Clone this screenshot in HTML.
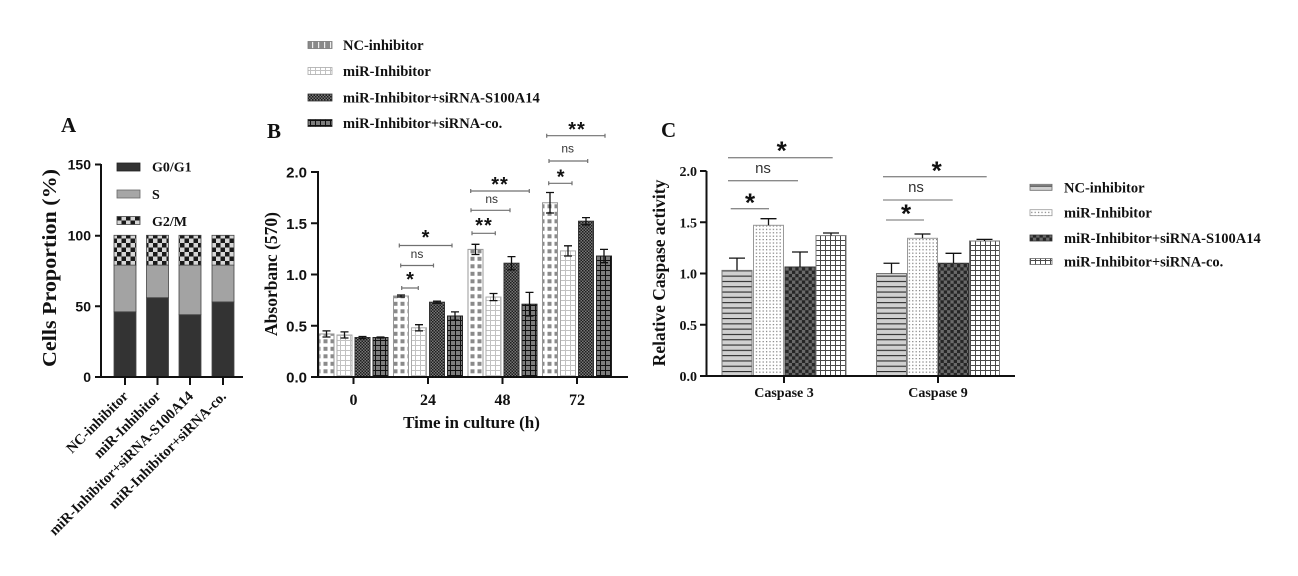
<!DOCTYPE html>
<html><head><meta charset="utf-8">
<style>
html,body{margin:0;padding:0;background:#fff}
svg{display:block}
.sr{font-family:"Liberation Serif","Times New Roman",serif;font-weight:bold;fill:#111}
.ss{font-family:"Liberation Sans",Arial,sans-serif;font-weight:bold;fill:#111}
.ns{font-family:"Liberation Sans",Arial,sans-serif;font-weight:normal;fill:#333}
.ax{stroke:#111;stroke-width:2;fill:none}
.eb{stroke:#111;stroke-width:1.3;fill:none}
.br{stroke:#707070;stroke-width:1.2;fill:none}
.cl{stroke:#8a8a8a;stroke-width:1.3;fill:none}
</style></head>
<body>
<svg width="1298" height="576" viewBox="0 0 1298 576" xmlns="http://www.w3.org/2000/svg">
<defs>
<pattern id="aChk" width="9" height="9" patternUnits="userSpaceOnUse"><rect width="9" height="9" fill="#d6d6d6"/><rect width="4.5" height="4.5" fill="#1a1a1a"/><rect x="4.5" y="4.5" width="4.5" height="4.5" fill="#1a1a1a"/></pattern>
<pattern id="b1" width="7" height="7.5" patternUnits="userSpaceOnUse"><rect width="7" height="7.5" fill="#fff"/><rect x="1.5" y="1.8" width="4" height="4" fill="#8a8a8a"/></pattern>
<pattern id="b1s" width="6" height="7" patternUnits="userSpaceOnUse"><rect width="6" height="7" fill="#8a8a8a"/><rect x="0" y="0" width="1.2" height="7" fill="#eee"/></pattern>
<pattern id="b2" width="5" height="5" patternUnits="userSpaceOnUse"><rect width="5" height="5" fill="#fff"/><path d="M0 0.5H5M0.5 0V5" stroke="#c2c2c2" stroke-width="1"/></pattern>
<pattern id="b3" width="3" height="3" patternUnits="userSpaceOnUse"><rect width="3" height="3" fill="#777"/><rect width="1.5" height="1.5" fill="#1c1c1c"/><rect x="1.5" y="1.5" width="1.5" height="1.5" fill="#1c1c1c"/></pattern>
<pattern id="b4" width="5" height="5" patternUnits="userSpaceOnUse"><rect width="5" height="5" fill="#7e7e7e"/><path d="M0 0.5H5M0.5 0V5" stroke="#111" stroke-width="1"/></pattern>
<pattern id="c1" width="10" height="5.3" patternUnits="userSpaceOnUse"><rect width="10" height="5.3" fill="#d0d0d0"/><rect width="10" height="1.1" fill="#2a2a2a"/></pattern>
<pattern id="c2" width="3.4" height="3.4" patternUnits="userSpaceOnUse"><rect width="3.4" height="3.4" fill="#fff"/><rect x="1" y="1" width="1.2" height="1.2" fill="#777"/></pattern>
<pattern id="c3" width="6.6" height="6.6" patternUnits="userSpaceOnUse"><rect width="6.6" height="6.6" fill="#6a6a6a"/><rect width="3.3" height="3.3" fill="#262626"/><rect x="3.3" y="3.3" width="3.3" height="3.3" fill="#262626"/></pattern>
<pattern id="c4" width="5" height="5" patternUnits="userSpaceOnUse"><rect width="5" height="5" fill="#fff"/><path d="M0 0.5H5M0.5 0V5" stroke="#4a4a4a" stroke-width="1"/></pattern>
</defs>

<!-- ================= PANEL A ================= -->
<text class="sr" x="61" y="132" font-size="21">A</text>
<rect x="117" y="163" width="23" height="8" fill="#333" stroke="#222" stroke-width="0.8"/>
<text class="sr" x="152" y="171.5" font-size="14">G0/G1</text>
<rect x="117" y="190" width="23" height="8" fill="#a6a6a6" stroke="#666" stroke-width="0.8"/>
<text class="sr" x="152" y="199" font-size="14">S</text>
<rect x="117" y="216.5" width="23" height="8" fill="url(#aChk)" stroke="#444" stroke-width="0.8"/>
<text class="sr" x="152" y="226" font-size="14">G2/M</text>
<g stroke="#444" stroke-width="0.8">
<rect x="114" y="311.8" width="22" height="65.2" fill="#333"/>
<rect x="114" y="265.1" width="22" height="46.7" fill="#a3a3a3"/>
<rect x="114" y="235.3" width="22" height="29.8" fill="url(#aChk)"/>
<rect x="146.5" y="297.7" width="22" height="79.3" fill="#333"/>
<rect x="146.5" y="265.1" width="22" height="32.6" fill="#a3a3a3"/>
<rect x="146.5" y="235.3" width="22" height="29.8" fill="url(#aChk)"/>
<rect x="179" y="314.7" width="22" height="62.3" fill="#333"/>
<rect x="179" y="265.1" width="22" height="49.6" fill="#a3a3a3"/>
<rect x="179" y="235.3" width="22" height="29.8" fill="url(#aChk)"/>
<rect x="212" y="301.9" width="22" height="75.1" fill="#333"/>
<rect x="212" y="265.1" width="22" height="36.8" fill="#a3a3a3"/>
<rect x="212" y="235.3" width="22" height="29.8" fill="url(#aChk)"/>
</g>
<path class="ax" d="M101 164V377H243"/>
<path class="ax" d="M95 164.5H101M95 235.7H101M95 306.3H101M95 377H101"/>
<path class="ax" d="M125 377V385M157.5 377V385M190 377V385M223 377V385"/>
<g class="ss" font-size="14" text-anchor="end">
<text x="91" y="169.5">150</text>
<text x="91" y="240.7">100</text>
<text x="91" y="311.3">50</text>
<text x="91" y="382">0</text>
</g>
<text class="sr" font-size="20" text-anchor="middle" transform="translate(56,268) rotate(-90)" textLength="198" lengthAdjust="spacingAndGlyphs">Cells Proportion (%)</text>
<g class="sr" font-size="14.5" text-anchor="end">
<text transform="translate(129,397) rotate(-45)">NC-inhibitor</text>
<text transform="translate(161.5,397) rotate(-45)">miR-Inhibitor</text>
<text transform="translate(194,397) rotate(-45)">miR-Inhibitor+siRNA-S100A14</text>
<text transform="translate(227,397) rotate(-45)">miR-Inhibitor+siRNA-co.</text>
</g>

<!-- ================= PANEL B ================= -->
<text class="sr" x="267" y="138" font-size="21">B</text>
<rect x="308" y="41.5" width="24" height="7" fill="url(#b1s)" stroke="#777" stroke-width="0.8"/>
<text class="sr" x="343" y="50" font-size="14.5">NC-inhibitor</text>
<rect x="308" y="67.5" width="24" height="7" fill="url(#b2)" stroke="#aaa" stroke-width="0.8"/>
<text class="sr" x="343" y="76" font-size="14.5">miR-Inhibitor</text>
<rect x="308" y="94" width="24" height="7" fill="url(#b3)" stroke="#333" stroke-width="0.8"/>
<text class="sr" x="343" y="102.5" font-size="14.5">miR-Inhibitor+siRNA-S100A14</text>
<rect x="308" y="119.5" width="24" height="7" fill="url(#b4)" stroke="#222" stroke-width="0.8"/>
<text class="sr" x="343" y="128" font-size="14.5">miR-Inhibitor+siRNA-co.</text>

<g stroke-width="1">
<rect x="319" y="333.95" width="15" height="43.05" fill="url(#b1)" stroke="#999"/>
<rect x="337" y="334.98" width="15" height="42.02" fill="url(#b2)" stroke="#aaa"/>
<rect x="355" y="337.5" width="15" height="39.5" fill="url(#b3)" stroke="#333"/>
<rect x="373" y="337.5" width="15" height="39.5" fill="url(#b4)" stroke="#222"/>
<rect x="393.5" y="296" width="15" height="81" fill="url(#b1)" stroke="#999"/>
<rect x="411.5" y="327.8" width="15" height="49.2" fill="url(#b2)" stroke="#aaa"/>
<rect x="429.5" y="302.2" width="15" height="74.8" fill="url(#b3)" stroke="#333"/>
<rect x="447.5" y="316" width="15" height="61" fill="url(#b4)" stroke="#222"/>
<rect x="468" y="249.4" width="15" height="127.6" fill="url(#b1)" stroke="#999"/>
<rect x="486" y="297.05" width="15" height="79.95" fill="url(#b2)" stroke="#aaa"/>
<rect x="504" y="263.2" width="15" height="113.8" fill="url(#b3)" stroke="#333"/>
<rect x="522" y="304.2" width="15" height="72.8" fill="url(#b4)" stroke="#222"/>
<rect x="542.5" y="202.75" width="15" height="174.25" fill="url(#b1)" stroke="#999"/>
<rect x="560.5" y="250.9" width="15" height="126.1" fill="url(#b2)" stroke="#aaa"/>
<rect x="578.5" y="221.2" width="15" height="155.8" fill="url(#b3)" stroke="#333"/>
<rect x="596.5" y="256.05" width="15" height="120.95" fill="url(#b4)" stroke="#222"/>
</g>
<path class="eb" d="
M326.5 330.9V337M322.5 330.9H330.5M322.5 337H330.5
M344.5 331.9V338M340.5 331.9H348.5M340.5 338H348.5
M362.5 336.5V338.6M358.5 336.5H366.5M358.5 338.6H366.5
M380.5 337V338M376.5 337H384.5M376.5 338H384.5
M401 295V297M397 295H405M397 297H405
M419 324.7V330.9M415 324.7H423M415 330.9H423
M437 301.2V303.2M433 301.2H441M433 303.2H441
M455 311.9V320.1M451 311.9H459M451 320.1H459
M475.5 244.3V254.5M471.5 244.3H479.5M471.5 254.5H479.5
M493.5 293.5V300.6M489.5 293.5H497.5M489.5 300.6H497.5
M511.5 256.6V269.9M507.5 256.6H515.5M507.5 269.9H515.5
M529.5 292.4V316M525.5 292.4H533.5M525.5 316H533.5
M550 192.5V213M546 192.5H554M546 213H554
M568 245.8V256M564 245.8H572M564 256H572
M586 217.6V224.8M582 217.6H590M582 224.8H590
M604 249.4V262.7M600 249.4H608M600 262.7H608"/>
<path class="ax" d="M318 171V377H628"/>
<path class="ax" d="M311 172H318M311 223.25H318M311 274.5H318M311 325.75H318M311 377H318"/>
<path class="ax" d="M353.5 377V384M428 377V384M502.5 377V384M577 377V384"/>
<g class="ss" font-size="15" text-anchor="end">
<text x="307" y="177.5">2.0</text>
<text x="307" y="228.75">1.5</text>
<text x="307" y="280">1.0</text>
<text x="307" y="331.25">0.5</text>
<text x="307" y="382.5">0.0</text>
</g>
<g class="sr" font-size="16" text-anchor="middle">
<text x="353.5" y="405">0</text>
<text x="428" y="405">24</text>
<text x="502.5" y="405">48</text>
<text x="577" y="405">72</text>
</g>
<text class="sr" x="471.5" y="428" font-size="17" text-anchor="middle">Time in culture (h)</text>
<text class="sr" font-size="17.5" text-anchor="middle" transform="translate(277,274) rotate(-90)">Absorbanc (570)</text>
<path class="br" d="
M399.3 245.5H452M399.3 243.5V247.5M452 243.5V247.5
M400.7 265.5H433.5M400.7 263.5V267.5M433.5 263.5V267.5
M401.7 288H418.3M401.7 286V290M418.3 286V290
M470.7 191H529.3M470.7 189V193M529.3 189V193
M471 210.3H510M471 208.3V212.3M510 208.3V212.3
M472 233.3H495.3M472 231.3V235.3M495.3 231.3V235.3
M546.7 135.7H605M546.7 133.7V137.7M605 133.7V137.7
M549 161H587.7M549 159V163M587.7 159V163
M548.7 183.3H572M548.7 181.3V185.3M572 181.3V185.3"/>
<g class="ss" font-size="20" text-anchor="middle">
<text x="425.5" y="244">*</text>
<text x="410" y="286">*</text>
<text x="500" y="191" letter-spacing="1">**</text>
<text x="484" y="232" letter-spacing="1">**</text>
<text x="577" y="136" letter-spacing="1">**</text>
<text x="560.7" y="183.7">*</text>
</g>
<g class="ns" font-size="12" text-anchor="middle">
<text x="417" y="258">ns</text>
<text x="491.7" y="203">ns</text>
<text x="567.7" y="152.7">ns</text>
</g>

<!-- ================= PANEL C ================= -->
<text class="sr" x="661" y="137" font-size="21">C</text>
<g stroke-width="1">
<rect x="722" y="270.4" width="30" height="105.6" fill="url(#c1)" stroke="#777"/>
<rect x="753.5" y="225.3" width="30" height="150.7" fill="url(#c2)" stroke="#999"/>
<rect x="785" y="267" width="30" height="109" fill="url(#c3)" stroke="#333"/>
<rect x="816" y="235.6" width="30" height="140.4" fill="url(#c4)" stroke="#777"/>
<rect x="876.5" y="273.5" width="30" height="102.5" fill="url(#c1)" stroke="#777"/>
<rect x="907.5" y="238.3" width="30" height="137.7" fill="url(#c2)" stroke="#999"/>
<rect x="938.5" y="263.25" width="30" height="112.75" fill="url(#c3)" stroke="#333"/>
<rect x="969.5" y="241" width="30" height="135" fill="url(#c4)" stroke="#777"/>
</g>
<path class="eb" d="
M737 258.1V270.4M729 258.1H745
M768.5 218.7V225.3M760.5 218.7H776.5
M800 252V267M792 252H808
M831 233V235.6M823 233H839
M891.5 263.25V273.5M883.5 263.25H899.5
M922.5 234V238.3M914.5 234H930.5
M953.5 253.3V263.25M945.5 253.3H961.5
M984.5 239.4V241M976.5 239.4H992.5"/>
<path class="ax" d="M706.5 171V376H1015"/>
<path class="ax" d="M700 171H706.5M700 222.25H706.5M700 273.5H706.5M700 324.75H706.5M700 376H706.5"/>
<path class="ax" d="M784 376V383M938 376V383"/>
<g class="sr" font-size="14" text-anchor="end">
<text x="697" y="176">2.0</text>
<text x="697" y="227.25">1.5</text>
<text x="697" y="278.5">1.0</text>
<text x="697" y="329.75">0.5</text>
<text x="697" y="381">0.0</text>
</g>
<g class="sr" font-size="14" text-anchor="middle">
<text x="784" y="397">Caspase 3</text>
<text x="938" y="397">Caspase 9</text>
</g>
<text class="sr" font-size="17.5" text-anchor="middle" transform="translate(665,273) rotate(-90)">Relative Caspase activity</text>
<path class="cl" d="
M728 157.7H832.7M728 180.7H798M730.7 208.7H769
M883 176.7H986.7M883 200H952.7M886 220H924"/>
<g class="ss" font-size="26" text-anchor="middle">
<text x="781.7" y="159.5">*</text>
<text x="750" y="211.5">*</text>
<text x="936.7" y="179.5">*</text>
<text x="906" y="222.5">*</text>
</g>
<g class="ns" font-size="15" text-anchor="middle">
<text x="763" y="173">ns</text>
<text x="916" y="192">ns</text>
</g>
<rect x="1030" y="184.3" width="22" height="6" fill="url(#c1)" stroke="#666" stroke-width="0.8"/>
<text class="sr" x="1064" y="192.3" font-size="14.5">NC-inhibitor</text>
<rect x="1030" y="209.7" width="22" height="6" fill="url(#c2)" stroke="#999" stroke-width="0.8"/>
<text class="sr" x="1064" y="217.7" font-size="14.5">miR-Inhibitor</text>
<rect x="1030" y="235" width="22" height="6" fill="url(#c3)" stroke="#333" stroke-width="0.8"/>
<text class="sr" x="1064" y="243" font-size="14.5">miR-Inhibitor+siRNA-S100A14</text>
<rect x="1030" y="258.5" width="22" height="6" fill="url(#c4)" stroke="#666" stroke-width="0.8"/>
<text class="sr" x="1064" y="266.5" font-size="14.5">miR-Inhibitor+siRNA-co.</text>
</svg>
</body></html>
